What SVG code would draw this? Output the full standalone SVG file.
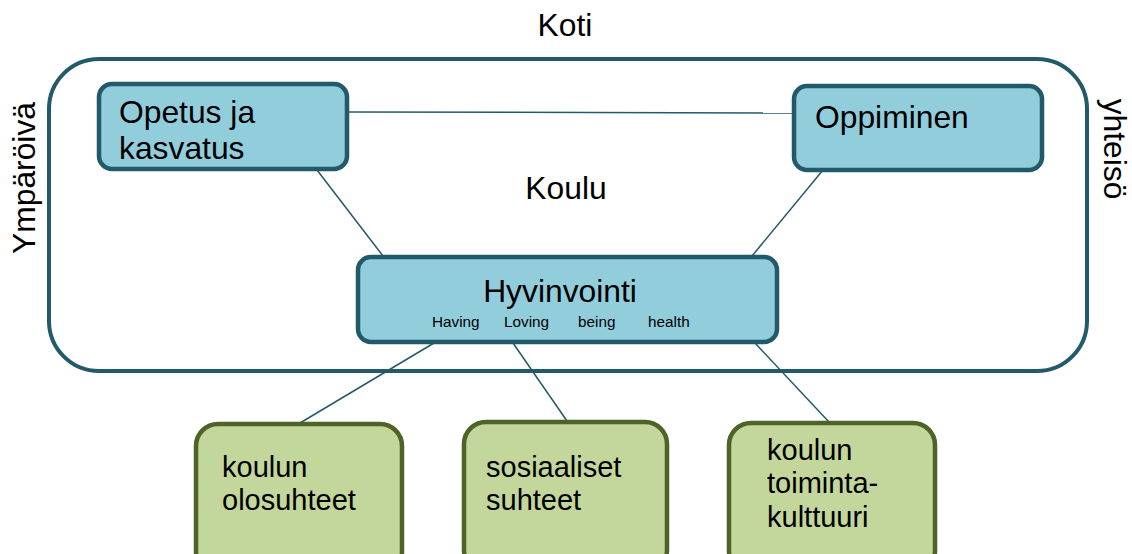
<svg xmlns="http://www.w3.org/2000/svg" width="1132" height="554" viewBox="0 0 1132 554">
<style>
text{font-family:"Liberation Sans",Arial,sans-serif;fill:#000}
.big{font-size:31.8px}
.g{font-size:29px}
.sm{font-size:15.3px}
.blue{fill:#92CDDC;stroke:#235A6A;stroke-width:4.5}
.green{fill:#C3D69B;stroke:#4F6228;stroke-width:4.5}
.conn line{stroke:#235A6A;stroke-width:1.5}
</style>
<rect width="1132" height="554" fill="#fff"/>
<g id="koti">
<rect x="49" y="59" width="1038" height="312" rx="50" fill="none" stroke="#235A6A" stroke-width="4"/>
<text class="big" x="565" y="36" text-anchor="middle">Koti</text>
<text class="big" x="566" y="199" text-anchor="middle">Koulu</text>
<text class="big" transform="translate(35,178) rotate(-90)" text-anchor="middle">Ympäröivä</text>
<text class="big" transform="translate(1104,149) rotate(90)" text-anchor="middle">yhteisö</text>
</g>
<g class="conn" id="connectors">
<line x1="347" y1="112" x2="793" y2="113"/>
<line x1="317" y1="170" x2="383" y2="256"/>
<line x1="823" y1="170" x2="752" y2="256"/>
<line x1="434" y1="343" x2="300" y2="423"/>
<line x1="513" y1="343" x2="567" y2="421"/>
<line x1="755" y1="343" x2="829" y2="422"/>
</g>
<g id="opetus">
<rect class="blue" x="99" y="84" width="248" height="85" rx="13"/>
<text class="big" x="119" y="123">Opetus ja</text>
<text class="big" x="119" y="159">kasvatus</text>
</g>
<g id="oppiminen">
<rect class="blue" x="794" y="86" width="248" height="84" rx="13"/>
<text class="big" x="815" y="128">Oppiminen</text>
</g>
<g id="hyvinvointi">
<rect class="blue" x="358" y="257" width="419" height="85" rx="13"/>
<text class="big" x="560" y="302" text-anchor="middle">Hyvinvointi</text>
<text class="sm" x="432" y="327">Having</text>
<text class="sm" x="504" y="327">Loving</text>
<text class="sm" x="578" y="327">being</text>
<text class="sm" x="648" y="327">health</text>
</g>
<g id="olosuhteet">
<rect class="green" x="196" y="424" width="206" height="150" rx="22"/>
<text class="g" x="222" y="477">koulun</text>
<text class="g" x="222" y="510">olosuhteet</text>
</g>
<g id="suhteet">
<rect class="green" x="464" y="422" width="203" height="150" rx="22"/>
<text class="g" x="486" y="477">sosiaaliset</text>
<text class="g" x="486" y="510">suhteet</text>
</g>
<g id="toimintakulttuuri">
<rect class="green" x="729" y="423" width="206" height="150" rx="22"/>
<text class="g" x="767" y="460">koulun</text>
<text class="g" x="767" y="493">toiminta-</text>
<text class="g" x="767" y="527">kulttuuri</text>
</g>
</svg>
